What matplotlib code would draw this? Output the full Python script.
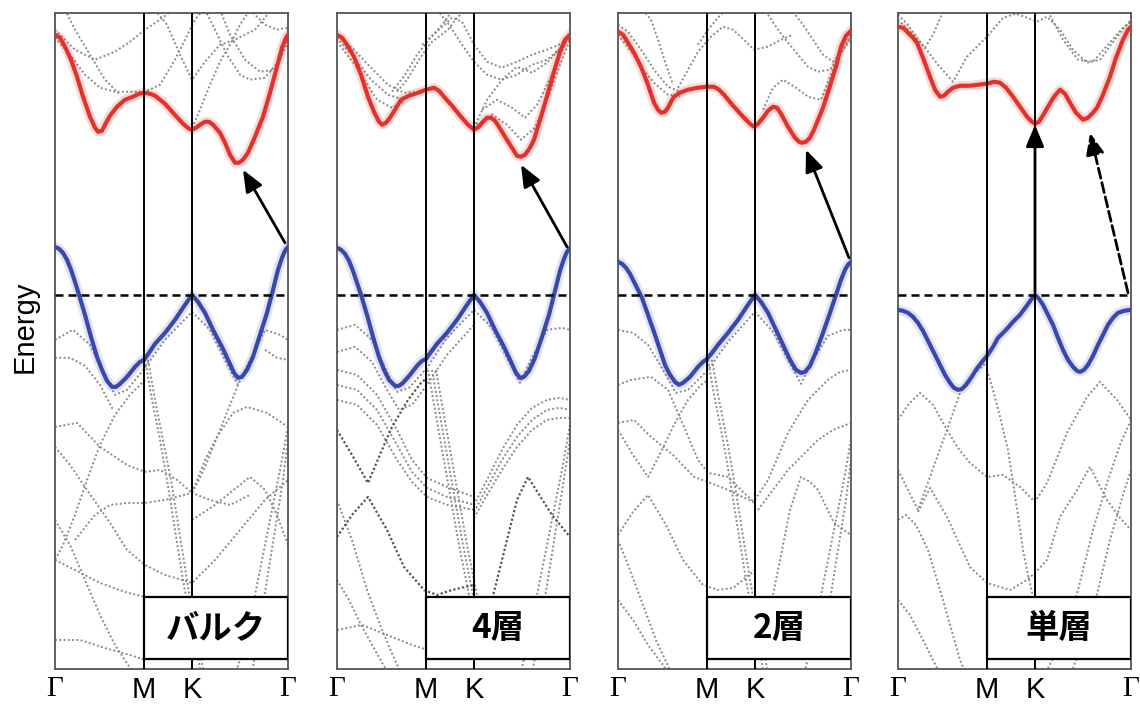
import matplotlib
matplotlib.use('Agg')
import matplotlib.pyplot as plt
from matplotlib.patches import Rectangle

plt.rcParams['font.family'] = ['Liberation Sans', 'DejaVu Sans']

# path Γ-M-K-Γ, same spacing in every panel
k_ticks = [0.0, 0.89, 1.37, 2.33]
k_labels = ['Γ', 'M', 'K', 'Γ']
names = ['バルク', '4層', '2層', '単層']

RED = '#e2322b'
BLUE = '#3949ab'
GREY = '#8a8a8a'

# ---------------- bulk ----------------
bulk_cb_k = [0, .05, .10, .16, .22, .28, .35, .40, .43, .47, .50, .55, .62, .70, .78, .84, .89, .95, 1.00, 1.10,
             1.18, 1.28, 1.34, 1.37, 1.41, 1.45, 1.50, 1.54, 1.58, 1.65, 1.70, 1.75, 1.80, 1.84, 1.88, 1.93,
             2.00, 2.08, 2.15, 2.22, 2.27, 2.31, 2.33]
bulk_cb_e = [2.60, 2.57, 2.48, 2.35, 2.18, 1.98, 1.78, 1.67, 1.63, 1.64, 1.70, 1.79, 1.88, 1.95, 1.98, 2.01, 2.02, 2.01, 1.99, 1.91,
             1.82, 1.71, 1.66, 1.65, 1.67, 1.70, 1.73, 1.73, 1.70, 1.62, 1.52, 1.40, 1.32, 1.32, 1.35, 1.42,
             1.58, 1.78, 2.02, 2.28, 2.47, 2.57, 2.60]
bulk_vb_k = [0, .04, .08, .12, .16, .20, .24, .30, .36, .42, .47, .52, .57, .61, .65, .72, .80, .85, .89, .94,
             1.00, 1.10, 1.20, 1.30, 1.37, 1.43, 1.50, 1.58, 1.67, 1.74, 1.79, 1.83, 1.87, 1.92, 1.98, 2.05,
             2.12, 2.18, 2.23, 2.27, 2.30, 2.33]
bulk_vb_e = [.48, .46, .42, .35, .25, .13, .00, -.20, -.42, -.62, -.75, -.86, -.92, -.92, -.89, -.82, -.72, -.67, -.65, -.58,
             -.49, -.38, -.25, -.10, .00, -.07, -.18, -.35, -.52, -.67, -.78, -.83, -.82, -.75, -.62, -.40,
             -.18, .05, .25, .37, .44, .48]
bulk_grey = [
    ([0, .15, .30, .45, .60, .75, .90, 1.05, 1.20, 1.30, 1.40, 1.48],
     [2.57, 2.40, 2.20, 2.07, 2.03, 2.03, 2.03, 2.10, 2.35, 2.55, 2.75, 2.85]),
    ([0, .20, .40, .60, .75, .90, 1.05, 1.18], [2.65, 2.45, 2.35, 2.43, 2.53, 2.65, 2.75, 2.85]),
    ([.10, .20, .35, .50, .65], [2.85, 2.65, 2.40, 2.15, 2.00]),
    ([1.00, 1.12, 1.25, 1.37, 1.50, 1.65, 1.80, 2.00, 2.15], [2.85, 2.70, 2.40, 2.15, 2.33, 2.50, 2.55, 2.65, 2.83]),
    ([1.37, 1.45, 1.55, 1.65, 1.75, 1.85, 1.95], [1.67, 1.85, 2.10, 2.33, 2.50, 2.70, 2.85]),
    ([1.50, 1.60, 1.72, 1.85, 1.95, 2.10, 2.25, 2.33], [2.85, 2.65, 2.40, 2.20, 2.15, 2.17, 2.35, 2.57]),
    ([1.65, 1.75, 1.90, 2.05, 2.20, 2.33], [2.85, 2.60, 2.35, 2.23, 2.25, 2.53]),
    ([1.95, 2.10, 2.22, 2.33], [2.85, 2.70, 2.65, 2.67]),
    ([0, .18, .35, .50, .60, .72, .90, 1.10, 1.37, 1.55, 1.70, 1.83, 1.95, 2.10, 2.25, 2.33],
     [-0.45, -0.35, -0.50, -0.80, -1.00, -0.95, -0.73, -0.45, -0.17, -0.35, -0.65, -0.90, -0.65, -0.35, -0.40, -0.45]),
    ([0, .15, .30, .45, .58], [-0.63, -0.63, -0.71, -0.90, -1.15]),
    ([2.10, 2.22, 2.33], [-0.55, -0.63, -0.65]),
    ([0, .22, .45, .72, .90, 1.05, 1.22, 1.37, 1.50, 1.62, 1.78, 1.92, 2.12, 2.33],
     [-1.32, -1.28, -1.52, -1.70, -1.77, -1.75, -1.85, -1.98, -1.65, -1.42, -1.18, -1.12, -1.18, -1.32]),
    ([0, .15, .32, .55, .72, .90, 1.10, 1.37, 1.60, 1.85, 2.10, 2.33],
     [-1.52, -1.70, -1.95, -2.28, -2.55, -2.70, -2.80, -2.88, -2.65, -2.35, -2.05, -1.85]),
    ([.90, .75, .60, .45, .32, .20, .08, 0], [-0.85, -1.00, -1.20, -1.50, -1.85, -2.20, -2.50, -2.65]),
    ([.20, .40, .55, .72, .90, 1.10, 1.37, 1.55, 1.75, 1.95],
     [-2.45, -2.20, -2.10, -2.08, -2.08, -2.05, -1.98, -2.05, -2.10, -2.00]),
    ([.90, .97, 1.05, 1.12, 1.20, 1.28, 1.37, 1.45], [-0.65, -1.05, -1.45, -1.85, -2.35, -2.85, -3.35, -3.73]),
    ([.93, 1.00, 1.08, 1.16, 1.24, 1.32, 1.40, 1.48], [-0.65, -1.05, -1.45, -1.85, -2.35, -2.85, -3.35, -3.73]),
    ([1.83, 1.75, 1.65, 1.55, 1.45, 1.37], [-0.90, -1.10, -1.35, -1.60, -1.83, -1.98]),
    ([1.37, 1.60, 1.85, 1.95, 2.10, 2.22, 2.33], [-2.25, -2.10, -1.90, -1.82, -1.95, -2.20, -2.50]),
    ([2.33, 2.25, 2.15, 2.05, 1.95, 1.85, 1.75], [-1.32, -1.75, -2.25, -2.75, -3.25, -3.65, -3.95]),
    ([2.33, 2.28, 2.20, 2.12, 2.04, 1.96], [-1.45, -1.85, -2.35, -2.85, -3.35, -3.85]),
    ([0, .15, .30, .45, .60, .75, .88], [-2.25, -2.50, -2.85, -3.20, -3.50, -3.73, -3.95]),
    ([0, .20, .45, .70, .90], [-2.65, -2.75, -2.88, -2.97, -3.02]),
    ([0, .25, .50, .75, .90], [-3.45, -3.45, -3.53, -3.60, -3.65]),
]
bulk_arrows = [((2.30, 0.52), (1.88, 1.25), '-')]

# ---------------- 4 layers ----------------
four_cb_k = [0, .05, .10, .17, .24, .31, .37, .42, .45, .49, .53, .58, .64, .72, .81, .89, .97, 1.02, 1.07, 1.15,
             1.24, 1.31, 1.37, 1.42, 1.46, 1.50, 1.54, 1.58, 1.62, 1.68, 1.75, 1.80, 1.84, 1.88, 1.93, 1.97,
             2.04, 2.11, 2.17, 2.23, 2.28, 2.33]
four_cb_e = [2.60, 2.57, 2.50, 2.38, 2.20, 1.98, 1.83, 1.73, 1.70, 1.72, 1.77, 1.85, 1.95, 1.99, 2.02, 2.05, 2.07, 2.04, 1.98, 1.89,
             1.78, 1.70, 1.65, 1.68, 1.73, 1.77, 1.77, 1.74, 1.68, 1.58, 1.47, 1.39, 1.38, 1.40, 1.47, 1.55,
             1.78, 2.02, 2.23, 2.43, 2.55, 2.60]
four_vb_k = [0, .04, .08, .12, .16, .20, .24, .30, .36, .42, .47, .52, .58, .62, .66, .73, .80, .85, .89, .94,
             1.00, 1.10, 1.20, 1.30, 1.37, 1.43, 1.50, 1.58, 1.67, 1.74, 1.79, 1.83, 1.87, 1.92, 1.98, 2.05,
             2.12, 2.18, 2.23, 2.27, 2.30, 2.33]
four_vb_e = [.47, .45, .41, .34, .24, .12, .00, -.20, -.42, -.62, -.75, -.85, -.91, -.91, -.88, -.80, -.71, -.66, -.64, -.57,
             -.49, -.38, -.25, -.10, .00, -.07, -.18, -.35, -.52, -.67, -.78, -.83, -.82, -.76, -.63, -.42,
             -.20, .04, .24, .36, .43, .47]
four_grey = [
    ([0, .17, .34, .51, .67, .85], [2.60, 2.45, 2.27, 2.10, 2.02, 2.03]),
    ([0, .17, .34, .51, .67], [2.57, 2.37, 2.15, 2.00, 1.95]),
    ([0, .20, .40, .55, .67], [2.53, 2.27, 1.95, 1.87, 1.93]),
    ([.60, .70, .84, .94, 1.11, 1.21, 1.30], [2.03, 2.15, 2.38, 2.52, 2.65, 2.78, 2.85]),
    ([.55, .68, .80, .92, 1.05, 1.15], [2.03, 2.20, 2.40, 2.55, 2.70, 2.83]),
    ([.85, 1.00, 1.15, 1.25, 1.37, 1.50, 1.65, 1.80, 1.95, 2.10, 2.22, 2.33],
     [2.50, 2.63, 2.77, 2.73, 2.50, 2.33, 2.27, 2.33, 2.40, 2.45, 2.50, 2.57]),
    ([1.00, 1.12, 1.25, 1.37, 1.50, 1.65, 1.80, 1.95, 2.10, 2.22, 2.33],
     [2.85, 2.70, 2.50, 2.33, 2.20, 2.15, 2.20, 2.30, 2.35, 2.45, 2.55]),
    ([1.37, 1.50, 1.65, 1.80, 1.95, 2.10, 2.22, 2.33], [1.67, 1.95, 2.15, 2.28, 2.22, 2.32, 2.45, 2.57]),
    ([1.40, 1.55, 1.70, 1.84, 1.98, 2.12, 2.25, 2.33], [1.70, 1.80, 1.70, 1.55, 1.67, 2.00, 2.35, 2.55]),
    ([1.45, 1.60, 1.75, 1.88, 2.00, 2.15, 2.28], [1.85, 1.95, 1.87, 1.77, 1.90, 2.20, 2.50]),
    ([0, .18, .35, .50, .60, .72, .90, 1.10, 1.37, 1.55, 1.70, 1.83, 1.95, 2.10, 2.25, 2.33],
     [-0.35, -0.30, -0.45, -0.77, -0.97, -0.93, -0.73, -0.43, -0.15, -0.33, -0.63, -0.88, -0.63, -0.35, -0.33, -0.35]),
    ([0, .18, .35, .50, .62, .75, .90, 1.10, 1.37], [-0.57, -0.52, -0.67, -0.95, -1.15, -1.10, -0.90, -0.60, -0.30]),
    ([0, .20, .40, .60, .75, .90, 1.10, 1.37], [-0.75, -0.80, -1.00, -1.35, -1.65, -1.83, -1.92, -2.02]),
    ([0, .20, .40, .60, .75, .90, 1.10, 1.37], [-0.90, -0.95, -1.15, -1.50, -1.77, -1.93, -2.02, -2.10]),
    ([0, .20, .40, .60, .75, .90, 1.10, 1.37], [-1.05, -1.10, -1.30, -1.65, -1.87, -2.02, -2.10, -2.15]),
    ([.91, .98, 1.06, 1.14, 1.22, 1.31, 1.40], [-0.75, -1.15, -1.60, -2.05, -2.50, -2.95, -3.45]),
    ([.95, 1.02, 1.10, 1.18, 1.26, 1.35, 1.44], [-0.75, -1.15, -1.60, -2.05, -2.50, -2.95, -3.45]),
    ([.99, 1.06, 1.14, 1.22, 1.30, 1.39, 1.48], [-0.75, -1.15, -1.60, -2.05, -2.50, -2.95, -3.45]),
    ([1.37, 1.50, 1.65, 1.80, 1.95, 2.10, 2.22, 2.33], [-2.10, -1.85, -1.55, -1.30, -1.13, -1.05, -1.03, -1.05]),
    ([1.37, 1.50, 1.65, 1.80, 1.95, 2.10, 2.22, 2.33], [-2.17, -1.93, -1.65, -1.42, -1.25, -1.15, -1.13, -1.15]),
    ([1.37, 1.50, 1.65, 1.80, 1.95, 2.10, 2.22, 2.33], [-2.23, -2.00, -1.75, -1.52, -1.35, -1.25, -1.23, -1.23]),
    ([2.33, 2.25, 2.15, 2.05, 1.95, 1.85], [-1.30, -1.75, -2.25, -2.75, -3.25, -3.73]),
    ([2.33, 2.26, 2.18, 2.10, 2.02, 1.94], [-1.45, -1.90, -2.40, -2.90, -3.40, -3.85]),
    ([0, .15, .30, .45, .60, .75], [-2.05, -2.45, -2.95, -3.35, -3.70, -3.95]),
    ([0, .12, .24, .38, .52, .66], [-2.85, -3.05, -3.30, -3.55, -3.80, -4.05]),
    ([0, .25, .50, .75, .91], [-3.35, -3.30, -3.40, -3.50, -3.55]),
]
# darker bands (several layers lying on top of each other)
four_dark = [
    ([0, .15, .31, .45, .55, .71, .84, .90], [-1.35, -1.60, -1.88, -1.55, -1.32, -1.05, -0.88, -0.83]),
    ([0, .15, .31, .50, .67, .87, 1.00, 1.15, 1.37], [-2.42, -2.20, -2.02, -2.35, -2.72, -2.95, -3.00, -2.95, -2.90]),
    ([1.50, 1.65, 1.80, 1.91, 2.01, 2.15, 2.33], [-3.25, -2.65, -2.05, -1.82, -1.98, -2.20, -2.42]),
]
four_arrows = [((2.30, 0.48), (1.84, 1.30), '-')]

# ---------------- 2 layers ----------------
two_cb_k = [0, .05, .10, .16, .23, .30, .36, .40, .43, .47, .50, .53, .56, .62, .70, .80, .89, .96, 1.01, 1.06,
            1.16, 1.26, 1.32, 1.36, 1.40, 1.45, 1.50, 1.55, 1.59, 1.63, 1.70, 1.77, 1.81, 1.84, 1.88, 1.92,
            1.96, 2.05, 2.13, 2.18, 2.23, 2.28, 2.33]
two_cb_e = [2.63, 2.60, 2.52, 2.42, 2.28, 2.10, 1.92, 1.85, 1.82, 1.83, 1.87, 1.93, 1.98, 2.02, 2.05, 2.07, 2.08, 2.08, 2.05, 2.00,
            1.88, 1.77, 1.71, 1.68, 1.71, 1.77, 1.84, 1.88, 1.87, 1.81, 1.68, 1.57, 1.53, 1.52, 1.53, 1.57,
            1.65, 1.87, 2.12, 2.28, 2.48, 2.59, 2.64]
two_vb_k = [0, .04, .08, .12, .16, .20, .24, .30, .36, .42, .47, .52, .57, .61, .65, .72, .80, .85, .89, .94,
            1.00, 1.10, 1.20, 1.30, 1.37, 1.43, 1.50, 1.58, 1.65, 1.72, 1.78, 1.83, 1.87, 1.92, 1.98, 2.05,
            2.12, 2.18, 2.23, 2.27, 2.30, 2.33]
two_vb_e = [.33, .31, .27, .21, .13, .05, -.03, -.20, -.37, -.55, -.70, -.80, -.87, -.90, -.88, -.82, -.72, -.67, -.64, -.58,
            -.50, -.38, -.25, -.10, .00, -.07, -.18, -.35, -.50, -.65, -.75, -.78, -.77, -.71, -.57, -.38,
            -.18, .00, .15, .25, .30, .33]
two_grey = [
    ([0, .10, .23, .36, .50, .62, .75], [2.70, 2.63, 2.45, 2.25, 2.08, 2.03, 2.05]),
    ([0, .12, .25, .38, .50, .62], [2.60, 2.45, 2.25, 2.10, 2.00, 1.98]),
    ([.25, .33, .40, .47, .55], [2.85, 2.75, 2.55, 2.33, 2.10]),
    ([.60, .70, .80, .93, 1.05, 1.15, 1.26, 1.36, 1.50, 1.63, 1.75],
     [2.07, 2.25, 2.43, 2.58, 2.68, 2.65, 2.55, 2.45, 2.48, 2.55, 2.60]),
    ([.80, .90, 1.00, 1.08], [2.50, 2.65, 2.77, 2.85]),
    ([1.50, 1.60, 1.70, 1.80, 1.90, 2.00, 2.12, 2.22, 2.33], [2.80, 2.65, 2.52, 2.40, 2.28, 2.23, 2.25, 2.40, 2.60]),
    ([1.45, 1.55, 1.65, 1.78, 1.90, 2.03, 2.16, 2.25, 2.33], [1.85, 2.07, 2.15, 2.07, 1.98, 1.95, 2.28, 2.45, 2.60]),
    ([1.75, 1.85, 1.95, 2.05, 2.15, 2.25, 2.33], [2.83, 2.70, 2.55, 2.40, 2.33, 2.45, 2.55]),
    ([0, .15, .30, .45, .58, .70, .90, 1.10, 1.37, 1.55, 1.70, 1.83, 1.95, 2.10, 2.25, 2.33],
     [-0.35, -0.38, -0.50, -0.75, -0.98, -0.95, -0.75, -0.47, -0.17, -0.37, -0.65, -0.89, -0.65, -0.41, -0.35, -0.35]),
    ([0, .13, .33, .50, .63, .80, .90, 1.10, 1.25, 1.37], [-0.90, -0.85, -0.82, -0.95, -1.25, -1.65, -1.78, -1.82, -1.97, -2.08]),
    ([0, .16, .33, .55, .76, .90, 1.10, 1.37], [-1.28, -1.25, -1.42, -1.60, -1.82, -1.87, -1.95, -2.08]),
    ([0, .15, .30, .45, .56, .70, .83, .90], [-1.35, -1.60, -1.82, -1.53, -1.30, -1.05, -0.90, -0.85]),
    ([0, .15, .30, .48, .65, .85, 1.00, 1.15, 1.37], [-2.40, -2.17, -2.00, -2.30, -2.65, -2.90, -2.95, -2.93, -2.75]),
    ([.90, .97, 1.05, 1.12, 1.20, 1.28, 1.37, 1.45], [-0.65, -1.05, -1.45, -1.85, -2.35, -2.85, -3.35, -3.73]),
    ([.94, 1.01, 1.09, 1.16, 1.24, 1.32, 1.41, 1.49], [-0.65, -1.05, -1.45, -1.85, -2.35, -2.85, -3.35, -3.73]),
    ([1.37, 1.50, 1.70, 1.90, 2.10, 2.22, 2.33], [-2.05, -1.85, -1.38, -1.05, -0.85, -0.77, -0.75]),
    ([1.40, 1.55, 1.70, 1.85, 2.00, 2.15, 2.33], [-2.15, -1.95, -1.75, -1.60, -1.45, -1.35, -1.28]),
    ([1.50, 1.60, 1.72, 1.83, 1.92, 2.00, 2.16, 2.33], [-3.25, -2.75, -2.15, -1.82, -1.87, -1.95, -2.28, -2.40]),
    ([2.33, 2.25, 2.15, 2.05, 1.95, 1.85], [-1.45, -1.90, -2.40, -2.90, -3.40, -3.85]),
    ([2.33, 2.28, 2.20, 2.12, 2.04], [-1.65, -2.05, -2.55, -3.05, -3.55]),
    ([0, .12, .25, .38, .52, .66], [-2.45, -2.75, -3.10, -3.45, -3.75, -4.05]),
    ([0, .15, .30, .45, .60], [-3.05, -3.25, -3.50, -3.70, -3.95]),
]
two_arrows = [((2.31, 0.37), (1.88, 1.45), '-')]

# ---------------- monolayer ----------------
mono_cb_k = [0, .05, .10, .15, .19, .25, .32, .37, .42, .46, .50, .55, .62, .72, .80, .89, .96, 1.02, 1.08, 1.15,
             1.22, 1.29, 1.34, 1.37, 1.41, 1.46, 1.50, 1.56, 1.62, 1.67, 1.72, 1.78, 1.85, 1.90, 1.95, 1.99,
             2.05, 2.12, 2.18, 2.25, 2.30, 2.33]
mono_cb_e = [2.68, 2.67, 2.62, 2.57, 2.52, 2.37, 2.18, 2.05, 1.98, 1.99, 2.03, 2.07, 2.09, 2.09, 2.10, 2.11, 2.13, 2.12, 2.07, 1.98,
             1.88, 1.78, 1.73, 1.71, 1.73, 1.81, 1.88, 1.98, 2.05, 2.01, 1.92, 1.82, 1.75, 1.77, 1.82, 1.87,
             2.00, 2.18, 2.37, 2.55, 2.65, 2.68]
mono_vb_k = [0, .05, .10, .15, .20, .25, .30, .36, .42, .47, .52, .56, .60, .64, .68, .73, .78, .84, .89, .95,
             1.00, 1.08, 1.15, 1.22, 1.28, 1.33, 1.37, 1.41, 1.45, 1.50, 1.55, 1.60, 1.65, 1.70, 1.75, 1.79,
             1.82, 1.86, 1.90, 1.95, 2.00, 2.05, 2.10, 2.15, 2.20, 2.26, 2.33]
mono_vb_e = [-.15, -.16, -.18, -.22, -.28, -.36, -.46, -.58, -.70, -.80, -.88, -.93, -.95, -.94, -.90, -.83, -.75, -.67, -.61, -.52,
             -.43, -.35, -.27, -.20, -.12, -.05, .00, -.04, -.10, -.20, -.30, -.43, -.55, -.65, -.72, -.76,
             -.77, -.75, -.70, -.61, -.50, -.40, -.30, -.23, -.18, -.16, -.15]
mono_grey = [
    ([0, .10, .20, .27, .35, .45], [2.80, 2.70, 2.55, 2.47, 2.60, 2.83]),
    ([0, .15, .27, .40, .55, .69, .89, 1.05, 1.18, 1.29, 1.39, 1.49, 1.62, 1.75, 1.89, 2.02, 2.19, 2.33],
     [2.75, 2.60, 2.47, 2.30, 2.13, 2.38, 2.58, 2.77, 2.81, 2.77, 2.73, 2.78, 2.65, 2.45, 2.32, 2.35, 2.58, 2.75]),
    ([1.50, 1.65, 1.80, 1.95, 2.10, 2.25, 2.33], [2.83, 2.55, 2.35, 2.33, 2.50, 2.67, 2.73]),
    ([0, .10, .22, .35, .49, .60, .72, .89, 1.05, 1.22, 1.37, 1.49, 1.69, 1.89, 2.02, 2.19, 2.33],
     [-1.25, -1.10, -0.98, -1.10, -1.35, -1.53, -1.68, -1.82, -1.80, -1.92, -2.07, -1.88, -1.38, -1.02, -0.87, -1.05, -1.25]),
    ([0, .10, .20, .32, .49, .62, .75, .89], [-1.75, -1.95, -2.15, -1.82, -1.35, -0.98, -0.80, -0.67]),
    ([.20, .32, .49, .72, .89, 1.12, 1.29, 1.37, 1.49, 1.62, 1.79, 1.92, 2.09, 2.22, 2.33],
     [-2.17, -1.93, -2.22, -2.72, -2.88, -2.95, -2.85, -2.78, -2.65, -2.22, -1.95, -1.72, -2.05, -2.23, -2.35]),
    ([.89, .95, 1.02, 1.10, 1.15, 1.20, 1.25, 1.30, 1.37], [-0.75, -0.95, -1.22, -1.55, -1.88, -2.20, -2.55, -2.80, -3.10]),
    ([2.33, 2.22, 2.10, 1.95, 1.80, 1.65, 1.50], [-1.25, -1.50, -1.85, -2.35, -2.95, -3.45, -3.73]),
    ([2.33, 2.25, 2.12, 2.00, 1.88, 1.75], [-1.75, -2.00, -2.45, -2.95, -3.40, -3.73]),
    ([0, .08, .18, .30, .45, .62, .75], [-2.25, -2.20, -2.30, -2.55, -3.05, -3.65, -3.95]),
    ([0, .12, .25, .40, .55], [-3.05, -3.20, -3.45, -3.75, -4.05]),
]
mono_arrows = [((1.37, 0.03), (1.37, 1.70), '-'), ((2.30, 0.02), (1.92, 1.62), '--')]

panels = [
    (bulk_cb_k, bulk_cb_e, bulk_vb_k, bulk_vb_e, bulk_grey, [], bulk_arrows),
    (four_cb_k, four_cb_e, four_vb_k, four_vb_e, four_grey, four_dark, four_arrows),
    (two_cb_k, two_cb_e, two_vb_k, two_vb_e, two_grey, [], two_arrows),
    (mono_cb_k, mono_cb_e, mono_vb_k, mono_vb_e, mono_grey, [], mono_arrows),
]

W, H = 1140, 706
fig = plt.figure(figsize=(W / 100, H / 100), dpi=100)

left_px = [55, 337, 618, 898]
top_px, bottom_px, width_px = 12.7, 669, 233

for i, (cb_k, cb_e, vb_k, vb_e, grey, dark, arrows) in enumerate(panels):
    ax = fig.add_axes([left_px[i] / W, 1 - bottom_px / H, width_px / W, (bottom_px - top_px) / H])
    ax.set_xlim(k_ticks[0], k_ticks[-1])
    ax.set_ylim(-3.74, 2.82)

    for k, e in grey:
        ax.plot(k, e, color=GREY, lw=1.4, ls=(0, (1, 1.2)), zorder=1)
    for k, e in dark:
        ax.plot(k, e, color='#555555', lw=1.6, ls=(0, (1, 1)), zorder=1)

    # soft halo under the band edges, then the bands themselves
    ax.plot(cb_k, cb_e, color=RED, lw=7, alpha=0.18, solid_joinstyle='round', zorder=2)
    ax.plot(vb_k, vb_e, color=BLUE, lw=7, alpha=0.15, solid_joinstyle='round', zorder=2)
    ax.plot(cb_k, cb_e, color=RED, lw=3.0, solid_joinstyle='round', solid_capstyle='round', zorder=3)
    ax.plot(vb_k, vb_e, color=BLUE, lw=3.0, solid_joinstyle='round', solid_capstyle='round', zorder=3)

    for kx in k_ticks[1:3]:
        ax.axvline(kx, color='black', lw=1.4, zorder=4)
    ax.axhline(0, color='black', lw=1.8, dashes=(3.2, 2.0), zorder=4)

    for tail, head, style in arrows:
        ax.annotate('', xy=head, xytext=tail, zorder=5,
                    arrowprops=dict(arrowstyle='-|>,head_length=0.6,head_width=0.25',
                                    mutation_scale=22, color='black', lw=2.0, ls=style,
                                    shrinkA=0, shrinkB=0))

    # name box in the lower right corner
    x0 = k_ticks[1] / k_ticks[-1]
    ax.add_patch(Rectangle((x0, 0.0152), 1 - x0, 0.0945, transform=ax.transAxes,
                           facecolor='white', edgecolor='black', lw=1.6, zorder=6))
    ax.text((x0 + 1) / 2, 0.062, names[i], transform=ax.transAxes, ha='center', va='center',
            fontsize=24, fontweight='bold', family=['Noto Sans CJK JP', 'DejaVu Sans'], zorder=7)

    ax.set_yticks([])
    ax.set_xticks(k_ticks, k_labels)
    ax.tick_params(axis='x', length=0, pad=5, labelsize=21)
    for lab in ax.get_xticklabels():
        if lab.get_text() == 'Γ':
            lab.set_fontfamily(['Liberation Serif', 'DejaVu Serif'])
    for sp in ax.spines.values():
        sp.set_color('#555555')
        sp.set_linewidth(1.3)

fig.text(0.022, 0.537, 'Energy', rotation=90, fontsize=21, ha='center', va='center')

fig.savefig('out.png', dpi=100)
